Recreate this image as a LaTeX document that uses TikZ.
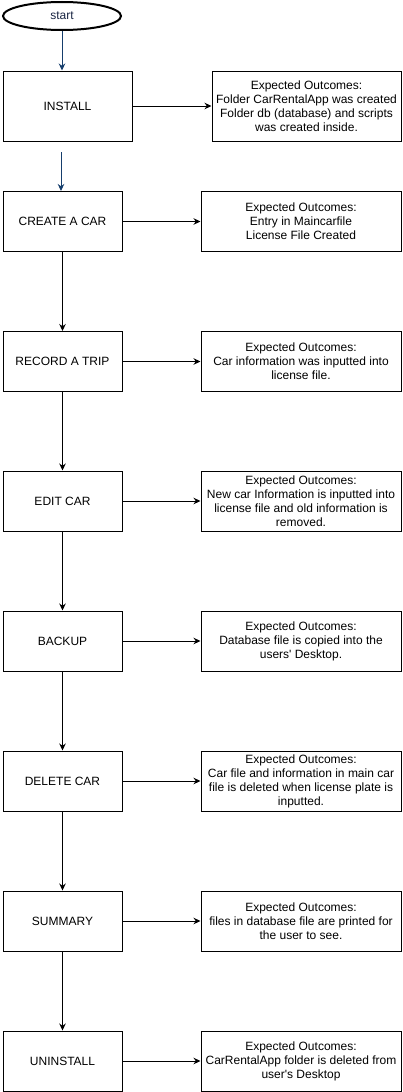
\documentclass[tikz,border=0pt]{standalone}
\usepackage{fontspec}
\setmainfont{Liberation Sans}
\usepackage{tikz}
\usetikzlibrary{shapes.geometric,arrows.meta}

\definecolor{linkblue}{RGB}{22,62,108}
\definecolor{startnavy}{RGB}{24,36,66}
\tikzset{
  stepbox/.style={draw, line width=1pt, minimum width=119pt, minimum height=60pt,
    inner sep=0pt, align=center, font=\fontsize{12}{14}\selectfont},
  outcome/.style={stepbox, minimum width=200pt},
  terminal/.style={ellipse, draw, line width=2pt, minimum width=118pt, minimum height=28pt,
    inner sep=0pt, text=startnavy, font=\fontsize{12}{14}\selectfont},
  flow/.style={-{Stealth[length=7pt,width=6.5pt]}, line width=1pt},
  bluelink/.style={flow, draw=linkblue, fill=linkblue},
}

\begin{document}
\begin{tikzpicture}
		\useasboundingbox (0pt,0pt) rectangle (402pt,-1092pt);

		% Define nodes
		\node[terminal, xshift=62pt, yshift=-16pt] (start) {start};
		\node[stepbox, minimum width=129pt, minimum height=70pt, xshift=67.5pt, yshift=-106pt] (install) {INSTALL};
		\node[outcome, minimum width=189pt, minimum height=70pt, xshift=306.5pt, yshift=-106pt] (out1)
			{Expected Outcomes:\\Folder CarRentalApp was created\\Folder db (database) and scripts\\was created inside.};
		\coordinate[xshift=61pt, yshift=-152pt] (gap);

		\node[stepbox, xshift=62.5pt, yshift=-221.5pt] (create) {CREATE A CAR};
		\node[outcome, xshift=301pt, yshift=-221.5pt] (out2)
			{Expected Outcomes:\\Entry in Maincarfile\\License File Created};

		\node[stepbox, xshift=62.5pt, yshift=-361.5pt] (record) {RECORD A TRIP};
		\node[outcome, xshift=301pt, yshift=-361.5pt] (out3)
			{Expected Outcomes:\\Car information was inputted into\\license file.};

		\node[stepbox, xshift=62.5pt, yshift=-501pt] (edit) {EDIT CAR};
		\node[outcome, xshift=301pt, yshift=-501pt] (out4)
			{Expected Outcomes:\\New car Information is inputted into\\license file and old information is\\removed.};

		\node[stepbox, xshift=62.5pt, yshift=-641pt] (backup) {BACKUP};
		\node[outcome, xshift=301pt, yshift=-641pt] (out5)
			{Expected Outcomes:\\Database file is copied into the\\users\textquotesingle{} Desktop.};

		\node[stepbox, xshift=62.5pt, yshift=-781pt] (delete) {DELETE CAR};
		\node[outcome, xshift=301pt, yshift=-781pt] (out6)
			{Expected Outcomes:\\Car file and information in main car\\file is deleted when license plate is\\inputted.};

		\node[stepbox, xshift=62.5pt, yshift=-921pt] (summary) {SUMMARY};
		\node[outcome, xshift=301pt, yshift=-921pt] (out7)
			{Expected Outcomes:\\files in database file are printed for\\the user to see.};

		\node[stepbox, xshift=62.5pt, yshift=-1061pt] (uninstall) {UNINSTALL};
		\node[outcome, xshift=301pt, yshift=-1061pt] (out8)
			{Expected Outcomes:\\CarRentalApp folder is deleted from\\user\textquotesingle{}s Desktop};

		% Connect the nodes
		\draw[bluelink] (start.south) -- (start.south |- install.north);
		\draw[bluelink] (gap) -- (gap |- create.north);
		\draw[flow] (create) -- (record);
		\draw[flow] (record) -- (edit);
		\draw[flow] (edit) -- (backup);
		\draw[flow] (backup) -- (delete);
		\draw[flow] (delete) -- (summary);
		\draw[flow] (summary) -- (uninstall);
		\draw[flow] (install) -- (out1);
		\foreach \s/\o in {create/out2, record/out3, edit/out4, backup/out5, delete/out6, summary/out7, uninstall/out8}
			\draw[flow] (\s) -- (\o);
	\end{tikzpicture}
\end{document}
